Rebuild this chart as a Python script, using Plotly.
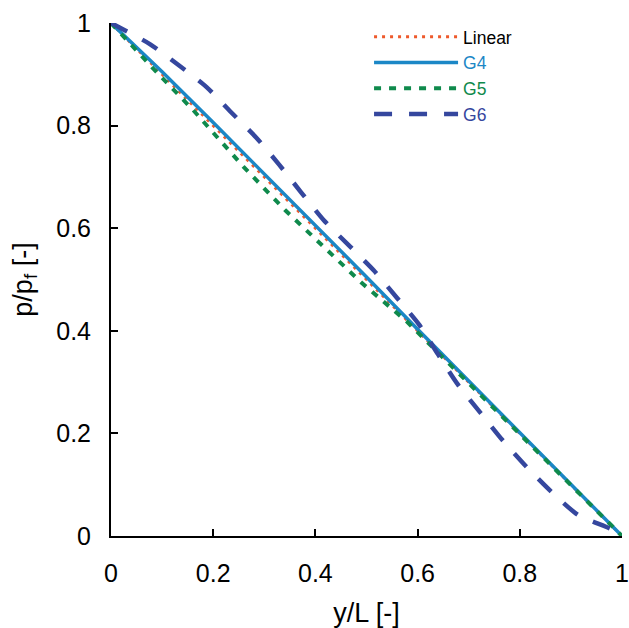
import plotly.graph_objects as go

# Data
x_lin = [0.0, 1.0]
y_lin = [1.0, 0.0]

x_g4 = [0.0, 0.1, 0.2, 0.3, 0.4, 0.5, 0.6, 0.7, 0.8, 0.9, 1.0]
y_g4 = [1.0, 0.905, 0.806, 0.706, 0.606, 0.505, 0.403, 0.302, 0.201, 0.1, 0.0]

x_g5 = [0.0, 0.08, 0.161, 0.259, 0.341, 0.42, 0.491, 0.579, 0.7, 0.8, 0.9, 1.0]
y_g5 = [1.0, 0.914, 0.83, 0.72, 0.635, 0.56, 0.493, 0.418, 0.298, 0.198, 0.098, 0.0]

x_g6 = [0.0, 0.076, 0.132, 0.187, 0.235, 0.284, 0.329, 0.372, 0.416, 0.465, 0.514,
        0.559, 0.603, 0.64, 0.679, 0.724, 0.766, 0.813, 0.861, 0.914, 0.978, 1.0]
y_g6 = [1.0, 0.959, 0.918, 0.875, 0.826, 0.777, 0.724, 0.67, 0.616, 0.567, 0.518,
        0.465, 0.412, 0.354, 0.295, 0.239, 0.187, 0.135, 0.087, 0.041, 0.014, 0.0]

tick_vals = [0, 0.2, 0.4, 0.6, 0.8, 1]
tick_text = ["0", "0.2", "0.4", "0.6", "0.8", "1"]

C_LIN = "#EE5A2C"
C_G4 = "#1B87C6"
C_G5 = "#0F8A4C"
C_G6 = "#35479E"

fig = go.Figure()
fig.add_trace(go.Scatter(x=x_lin, y=y_lin, mode="lines", name="Linear",
                         line=dict(color=C_LIN, width=3, dash="3px,5px")))
fig.add_trace(go.Scatter(x=x_g4, y=y_g4, mode="lines",
                         name="<span style='color:%s'>G4</span>" % C_G4,
                         line=dict(color=C_G4, width=3.5)))
fig.add_trace(go.Scatter(x=x_g5, y=y_g5, mode="lines",
                         name="<span style='color:%s'>G5</span>" % C_G5,
                         line=dict(color=C_G5, width=4, dash="7px,8px")))
fig.add_trace(go.Scatter(x=x_g6, y=y_g6, mode="lines",
                         name="<span style='color:%s'>G6</span>" % C_G6,
                         line=dict(color=C_G6, width=4.5, dash="18px,17px",
                                   shape="spline", smoothing=0.6)))

axis_common = dict(
    range=[0, 1], tickvals=tick_vals, ticktext=tick_text,
    ticks="inside", ticklen=7, tickwidth=2, tickcolor="black",
    showline=True, linecolor="black", linewidth=2,
    showgrid=False, zeroline=False, mirror=False, automargin=False,
    tickfont=dict(family="Liberation Sans, Arial", size=25, color="black"),
)

fig.update_layout(
    width=629, height=628,
    margin=dict(l=111, r=7, t=23, b=92),
    paper_bgcolor="white", plot_bgcolor="white",
    font=dict(family="Liberation Sans, Arial", color="black"),
    xaxis=dict(**axis_common, ticklabelstandoff=14,
               title=dict(text="y/L [-]", font=dict(size=27), standoff=18)),
    yaxis=dict(**axis_common, ticklabelstandoff=13,
               title=dict(text="p/p<sub>f</sub> [-]", font=dict(size=27), standoff=16)),
    showlegend=True,
    legend=dict(x=0.505, y=1.008, xanchor="left", yanchor="top",
                bgcolor="rgba(0,0,0,0)", itemwidth=84,
                font=dict(size=17.5, color="black"), tracegroupgap=0),
)

fig.write_html(
    "out.html",
    config={"displayModeBar": False},
    post_script="document.body.style.margin='0';document.body.style.overflow='hidden';",
)
